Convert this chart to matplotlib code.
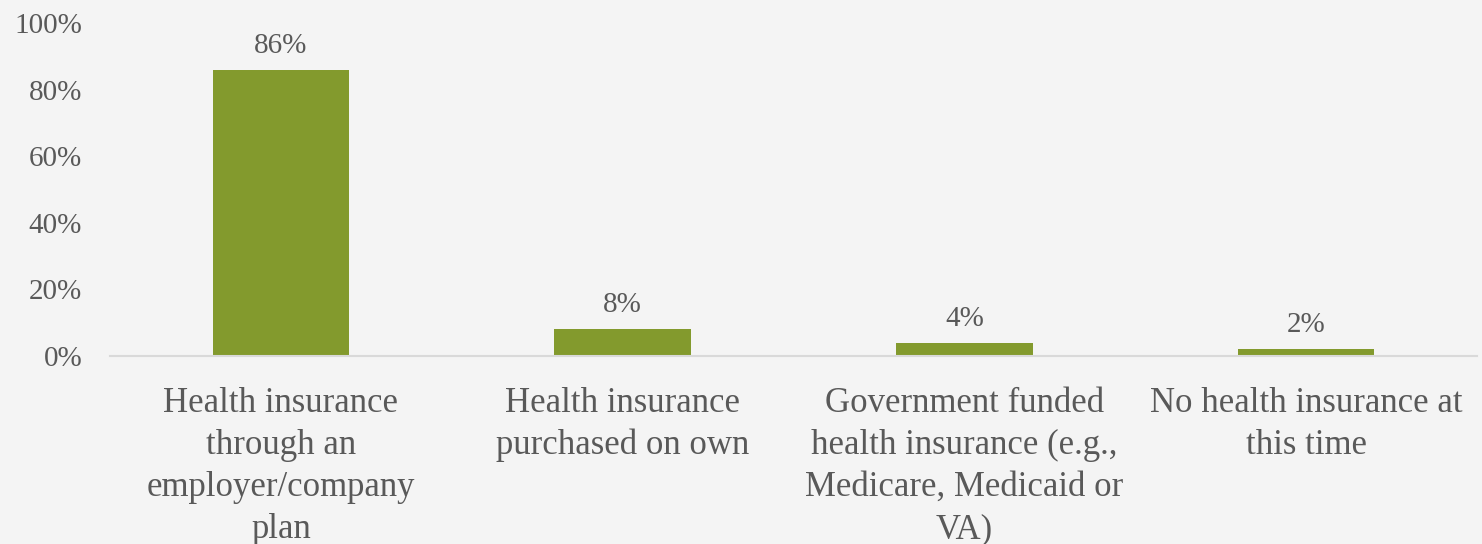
import matplotlib
matplotlib.use("Agg")
import matplotlib.pyplot as plt

categories = [
    "Health insurance\nthrough an\nemployer/company\nplan",
    "Health insurance\npurchased on own",
    "Government funded\nhealth insurance (e.g.,\nMedicare, Medicaid or\nVA)",
    "No health insurance at\nthis time",
]
values = [86, 8, 4, 2]
yticks = [0, 20, 40, 60, 80, 100]

bar_color = "#839A2D"
text_color = "#595959"
bg = "#F4F4F4"

plt.rcParams["font.family"] = ["Liberation Serif", "DejaVu Serif"]

fig = plt.figure(figsize=(14.82, 5.44), dpi=100, facecolor=bg)
ax = fig.add_axes([110 / 1482, 188 / 544, 1367 / 1482, 333 / 544], facecolor=bg)

x = range(len(categories))
bars = ax.bar(x, values, width=0.4, color=bar_color, zorder=2)

for b, v in zip(bars, values):
    ax.annotate(f"{v}%", (b.get_x() + b.get_width() / 2, v),
                xytext=(0, 8), textcoords="offset points",
                ha="center", va="bottom", fontsize=21, color=text_color)

ax.set_xlim(-0.5, len(categories) - 0.5)
ax.set_ylim(0, 100)
ax.set_yticks(yticks)
ax.set_yticklabels([f"{t}%" for t in yticks])
ax.set_xticks(list(x))
ax.set_xticklabels(categories, linespacing=1.37)

ax.tick_params(axis="y", length=0, pad=20, labelsize=21, labelcolor=text_color)
ax.tick_params(axis="x", length=0, pad=22, labelsize=25, labelcolor=text_color)

for s in ["top", "right", "left"]:
    ax.spines[s].set_visible(False)
ax.spines["bottom"].set_color("#D9D9D9")
ax.spines["bottom"].set_linewidth(1.5)
ax.spines["bottom"].set_zorder(3)

fig.savefig("out.png", dpi=100, facecolor=bg)
